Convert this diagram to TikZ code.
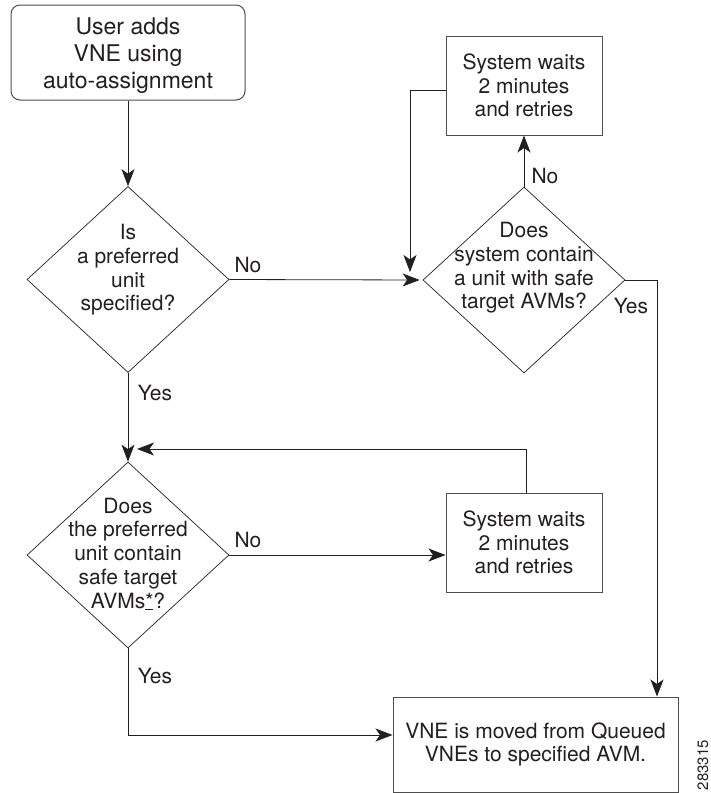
\documentclass[tikz,border=0pt]{standalone}
\usepackage{fontspec}
\setmainfont{TeX Gyre Heros}
\usetikzlibrary{shapes.geometric,arrows.meta}
\definecolor{ink}{HTML}{231F20}
\begin{document}
\begin{tikzpicture}[x=1pt,y=-1pt,
  every node/.style={font=\fontsize{21}{23.7}\selectfont, text=ink},
  box/.style={draw=ink!80, line width=1pt, rectangle, inner sep=0pt, align=center},
  dia/.style={draw=ink, line width=0.7pt, diamond, inner sep=0pt, minimum width=202pt, minimum height=186pt},
  txt/.style={align=center, inner sep=0pt},
  lbl/.style={inner sep=0pt, anchor=base},
  conn/.style={draw=ink, line width=0.8pt},
  arr/.style={conn, -{Stealth[length=17pt,width=13pt,inset=4.5pt]}}]
\useasboundingbox (0,0) rectangle (710,793);

% nodes
\node[box, rounded corners=9pt, minimum width=234pt, minimum height=95pt] (start) at (128,52.5) {};
\node[txt, font=\fontsize{23}{27}\selectfont] (startt) at (128,56) {User adds\\VNE using\\auto-assignment};
\node[dia] (d1) at (128,279.5) {};
\node[txt] (d1t) at (128,270) {Is\\a preferred\\unit\\specified?};
\node[dia] (d2) at (524,280) {};
\node[txt] (d2t) at (524,268) {Does\\system contain\\a unit with safe\\target AVMs?};
\node[box, minimum width=156pt, minimum height=99pt] (sys1) at (524,85.5) {System waits\\2 minutes\\and retries};
\node[dia] (d3) at (128,555) {};
\node[txt] (d3t) at (128,554) {Does\\the preferred\\unit contain\\safe target\\AVMs\underline{*}?};
\node[box, minimum width=156pt, minimum height=99pt] (sys2) at (524,542.5) {System waits\\2 minutes\\and retries};
\node[box, minimum width=285pt, minimum height=95pt] (vne) at (535.5,744.5) {VNE is moved from Queued\\VNEs to specified AVM.};

% labels
\node[lbl] (no1) at (248,272) {No};
\node[lbl] (no2) at (545,183) {No};
\node[lbl] (yes2) at (631,313) {Yes};
\node[lbl] (yes1) at (155,400) {Yes};
\node[lbl] (no3) at (248,547) {No};
\node[lbl] (yes3) at (155,683) {Yes};
\node[rotate=90, inner sep=0pt, font=\fontsize{15}{18}\selectfont] (fig) at (703,765) {283315};

% helper coordinates
\coordinate (c1) at (410,90);
\coordinate (c1e) at (410,272);
\coordinate (rx) at (657,280);
\coordinate (c2) at (526,449);
\coordinate (c2e) at (137,449);
\coordinate (ly) at (128,735);

% connectors
\draw[arr] (start.south) -- (d1.north);
\draw[arr, shorten >=3pt] (d1.east) -- (d2.west);
\draw[arr] (d2.north) -- (sys1.south);
\draw[arr] (sys1.west |- c1) -- (c1) -- (c1e);
\draw[arr] (d2.east) -- (rx) -- (rx |- vne.north);
\draw[arr] (d1.south) -- (d3.north);
\draw[arr] (d3.east) -- (d3.east -| sys2.west);
\draw[arr] (sys2.north -| c2) -- (c2) -- (c2e);
\draw[arr] (d3.south) -- (ly) -- (ly -| vne.west);
\end{tikzpicture}
\end{document}
